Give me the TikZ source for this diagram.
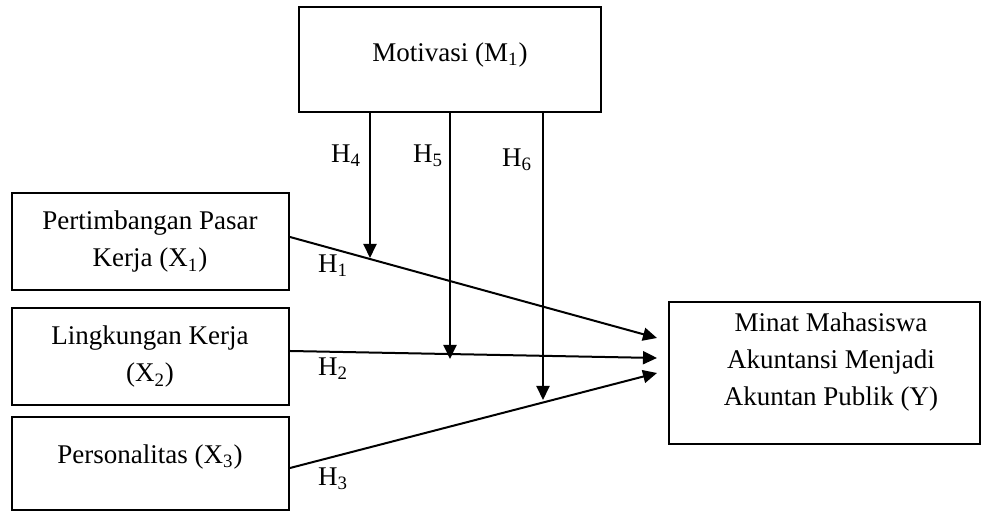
\documentclass[tikz,border=0pt]{standalone}
\usepackage{fontspec}
\setmainfont{Liberation Serif}
\usetikzlibrary{arrows.meta}
\begin{document}
\begin{tikzpicture}[x=0.5pt,y=-0.5pt,
  box/.style={draw,line width=1pt,inner sep=0pt},
  txt/.style={align=center,inner sep=0pt,font=\fontsize{13.5}{18.5}\selectfont},
  arr/.style={line width=1pt,-{Triangle[length=7pt,width=6.5pt]}},
  hlab/.style={font=\fontsize{13.5}{14}\selectfont,inner sep=0pt}]
\useasboundingbox (0,0) rectangle (982,512);
\node[box,minimum width=151pt,minimum height=52.5pt] (m) at (450,59.5) {};
\node[box,minimum width=138.5pt,minimum height=48.5pt] (x1) at (150.5,241.5) {};
\node[box,minimum width=138.5pt,minimum height=48.5pt] (x2) at (150.5,356.5) {};
\node[box,minimum width=138.5pt,minimum height=46.5pt] (x3) at (150.5,463.5) {};
\node[box,minimum width=155.5pt,minimum height=71pt] (y) at (824.5,373) {};
\node[txt] (mt) at (450,55) {Motivasi (M\textsubscript{1})};
\node[txt] (x1t) at (150,242) {Pertimbangan Pasar\\Kerja (X\textsubscript{1})};
\node[txt] (x2t) at (150,357) {Lingkungan Kerja\\(X\textsubscript{2})};
\node[txt] (x3t) at (150,457) {Personalitas (X\textsubscript{3})};
\node[txt] (yt) at (831,362) {Minat Mahasiswa\\Akuntansi Menjadi\\Akuntan Publik (Y)};
\coordinate (s1) at (289,237);
\coordinate (s2) at (289,351);
\coordinate (s3) at (289,468);
\coordinate (e1) at (657,338);
\coordinate (e2) at (657,358);
\coordinate (e3) at (657,373);
\coordinate (t4) at (370,258);
\coordinate (t5) at (450,359);
\coordinate (t6) at (543,400);
\draw[arr] (x1.east |- s1) -- (e1);
\draw[arr] (x2.east |- s2) -- (e2);
\draw[arr] (x3.east |- s3) -- (e3);
\draw[arr] (m.south -| t4) -- (t4);
\draw[arr] (m.south -| t5) -- (t5);
\draw[arr] (m.south -| t6) -- (t6);
\node[hlab] (h1) at (333,266) {H\textsubscript{1}};
\node[hlab] (h2) at (333,369) {H\textsubscript{2}};
\node[hlab] (h3) at (333,479) {H\textsubscript{3}};
\node[hlab] (h4) at (346,156) {H\textsubscript{4}};
\node[hlab] (h5) at (428,156) {H\textsubscript{5}};
\node[hlab] (h6) at (517,160) {H\textsubscript{6}};
\end{tikzpicture}
\end{document}
